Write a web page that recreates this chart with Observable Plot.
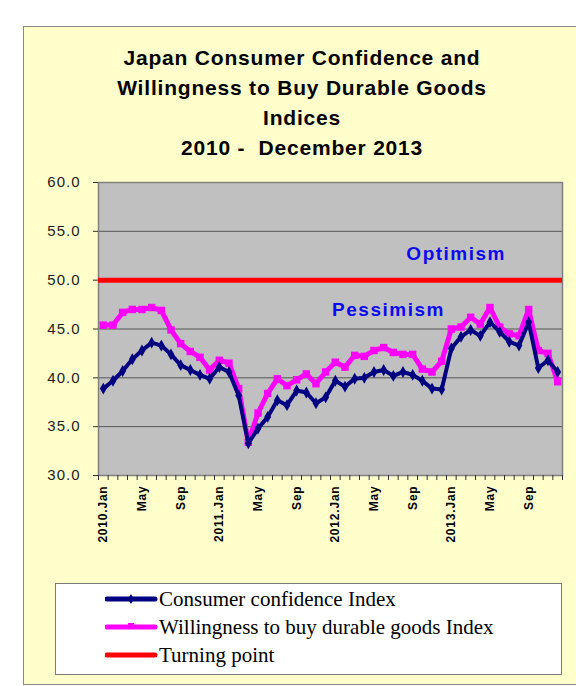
<!DOCTYPE html>
<html>
<head>
<meta charset="utf-8">
<script src="https://cdn.jsdelivr.net/npm/d3@7"></script>
<script src="https://cdn.jsdelivr.net/npm/@observablehq/plot@0.6"></script>
<style>
  html, body { margin: 0; padding: 0; background: #ffffff; }
  #page { position: relative; width: 576px; height: 686px; overflow: hidden; font-family: "Liberation Sans", Arial, sans-serif; }
  #box { position: absolute; left: 23px; top: 26px; width: 570px; height: 657px; background: #FFFFCC; border: 1px solid #8a8a8a; }
  #title { position: absolute; left: 0; top: 43px; width: 604px; text-align: center; font-size: 21px; font-weight: bold; line-height: 30px; letter-spacing: 0.8px; color: #000; }
  #chart { position: absolute; left: 0; top: 165px; }
  #legend { position: absolute; left: 55px; top: 583px; width: 507px; height: 92px; background: #fff; border: 1px solid #7a7a7a; box-sizing: border-box; }
  .row { position: absolute; left: 0; height: 28px; width: 100%; }
  .row svg { position: absolute; left: 49px; top: 0; }
  .row span { position: absolute; left: 103px; top: 0; line-height: 28px; font-family: "Liberation Serif", "Times New Roman", serif; font-size: 21px; color: #000; white-space: nowrap; }
  g[aria-label="x-axis tick label"] text { letter-spacing: 0.8px; }
  g[aria-label="y-axis tick label"] text { letter-spacing: 1px; }
  g[aria-label="text"] text { letter-spacing: 1.5px; }
</style>
</head>
<body>
<div id="page">
  <div id="box"></div>
  <div id="title">Japan Consumer Confidence and<br>Willingness to Buy Durable Goods<br>Indices<br>2010 -&nbsp; December 2013</div>
  <div id="chart"></div>
  <div id="legend"></div>
</div>
<script>
// ---- data ----
const months = [
  "2010.Jan","Feb","Mar","Apr","May","Jun","Jul","Aug","Sep","Oct","Nov","Dec",
  "2011.Jan","Feb","Mar","Apr","May","Jun","Jul","Aug","Sep","Oct","Nov","Dec",
  "2012.Jan","Feb","Mar","Apr","May","Jun","Jul","Aug","Sep","Oct","Nov","Dec",
  "2013.Jan","Feb","Mar","Apr","May","Jun","Jul","Aug","Sep","Oct","Nov","Dec"
];
const consumerConfidence = [
  38.9,39.7,40.7,41.9,42.8,43.6,43.3,42.4,41.3,40.8,40.3,39.9,
  41.1,40.6,38.2,33.3,34.8,36.0,37.7,37.2,38.7,38.5,37.4,38.0,
  39.7,39.1,39.9,40.0,40.6,40.8,40.2,40.6,40.3,39.7,38.9,38.8,
  43.0,44.2,44.9,44.3,45.7,44.7,43.7,43.3,45.7,41.0,41.8,40.6
];
const willingness = [
  45.4,45.4,46.7,47.0,47.0,47.2,46.9,44.9,43.5,42.7,42.1,40.8,
  41.8,41.5,38.9,33.4,36.4,38.4,39.9,39.2,39.8,40.4,39.4,40.6,
  41.6,41.1,42.3,42.2,42.8,43.1,42.6,42.4,42.4,40.9,40.6,41.7,
  45.0,45.2,46.2,45.5,47.2,45.2,44.5,44.3,47.0,42.8,42.5,39.6
];
const turningPoint = [50];
const xTickLabels = ["2010.Jan","May","Sep","2011.Jan","May","Sep","2012.Jan","May","Sep","2013.Jan","May","Sep"];
const yTicks = [30,35,40,45,50,55,60];
const annotations = [
  {label: "Optimism", month: "2013.Jan", value: 52.7},
  {label: "Pessimism", month: "Jul", value: 47.0}
];
const seriesNames = ["Consumer confidence Index","Willingness to buy durable goods Index","Turning point"];
const seriesColors = ["#000080","#ff00ff","#ff0000"];

// ---- build table ----
const rows = months.map((m, i) => ({i, month: m, cci: consumerConfidence[i], will: willingness[i]}));
const labelIdx = xTickLabels.map((_, k) => k * 4);
const catBounds = d3.range(0, 49).map(k => k - 0.5);
const annRows = [
  {label: annotations[0].label, i: months.lastIndexOf(annotations[0].month) + 0.5, value: annotations[0].value},
  {label: annotations[1].label, i: months.indexOf(annotations[1].month, 24) - 0.5, value: annotations[1].value}
];

const chart = Plot.plot({
  width: 576,
  height: 395,
  marginTop: 17,
  marginBottom: 85,
  marginLeft: 98,
  marginRight: 14,
  style: {background: "transparent", fontFamily: "Liberation Sans, Arial, sans-serif", color: "#000"},
  x: {type: "linear", domain: [-0.5, 47.5], label: null},
  y: {domain: [30, 60], label: null},
  marks: [
    Plot.frame({fill: "#c0c0c0"}),
    Plot.gridY(yTicks.filter(d => d > 30 && d < 60), {stroke: "#555555", strokeOpacity: 1, strokeWidth: 1}),
    Plot.frame({stroke: "#808080", strokeWidth: 1.5}),
    Plot.axisY({ticks: yTicks, tickFormat: d3.format(".1f"), tickSize: 5, tickPadding: 13, fontSize: 15, fill: "#222", stroke: "#333", label: null}),
    Plot.axisX({ticks: catBounds, tickFormat: () => "", tickSize: 5, stroke: "#333", label: null}),
    Plot.axisX({ticks: labelIdx, tickFormat: (d, k) => xTickLabels[k], tickSize: 0, tickPadding: 10, tickRotate: -90, fontSize: 12, fontWeight: "bold", fill: "#000", label: null}),
    Plot.ruleY(turningPoint, {stroke: seriesColors[2], strokeWidth: 5}),
    Plot.line(rows, {x: "i", y: "will", stroke: seriesColors[1], strokeWidth: 5}),
    Plot.dot(rows, {x: "i", y: "will", symbol: "square", r: 4.2, fill: seriesColors[1]}),
    Plot.line(rows, {x: "i", y: "cci", stroke: seriesColors[0], strokeWidth: 4}),
    Plot.dot(rows, {x: "i", y: "cci", symbol: "diamond", r: 3.6, fill: seriesColors[0]}),
    Plot.text(annRows, {x: "i", y: "value", text: "label", fontSize: 19, fontWeight: "bold", fill: "#0a0af0"})
  ]
});
document.getElementById("chart").appendChild(chart);

// ---- legend ----
const legend = document.getElementById("legend");
seriesNames.forEach((name, k) => {
  const row = document.createElement("div");
  row.className = "row";
  row.style.top = (1 + k * 28) + "px";
  let marker = "";
  if (k === 0) marker = `<path d="M26,9 L29,14 L26,19 L23,14 Z" fill="${seriesColors[0]}"/>`;
  if (k === 1) marker = `<rect x="23" y="10" width="6" height="6" fill="${seriesColors[1]}"/>`;
  row.innerHTML = `<svg width="54" height="28"><line x1="2" y1="14" x2="50" y2="14" stroke="${seriesColors[k]}" stroke-width="5" stroke-linecap="round"/>${marker}</svg><span>${name}</span>`;
  legend.appendChild(row);
});
</script>
</body>
</html>
